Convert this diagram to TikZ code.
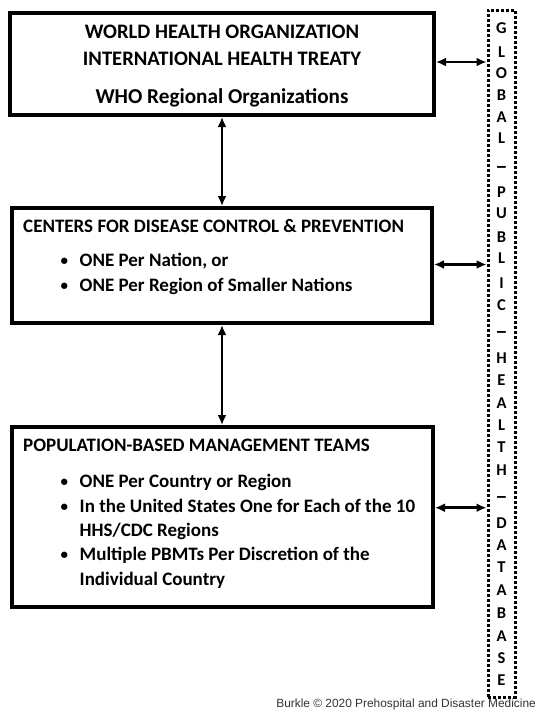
\documentclass[tikz,border=0pt]{standalone}
\usepackage{graphicx}
\usepackage{fontspec}
\setmainfont{Carlito}
\newfontfamily\creditfont{Liberation Sans}
\usetikzlibrary{arrows.meta}

\tikzset{
  tier/.style={draw, line width=4pt, inner sep=0pt},
  link/.style={line width=2.6pt, {Latex[length=10pt,width=9pt]}-{Latex[length=10pt,width=9pt]}},
  title/.style={inner sep=0pt, anchor=base, font=\fontsize{20.6}{24}\selectfont\bfseries},
  head/.style={inner sep=0pt, font=\fontsize{19}{22}\selectfont\bfseries},
  item/.style={head, anchor=base west},
  dbletter/.style={inner sep=0pt, font=\fontsize{16.5}{18}\selectfont\bfseries}
}
\newcommand{\bul}{\makebox[19pt][l]{\fontsize{15}{15}\selectfont\raisebox{1pt}{\textbullet}}}
\newcommand{\dbdash}{\scalebox{1.5}[1.3]{--}}

\begin{document}
\begin{tikzpicture}[x=1pt, y=-1pt]
\useasboundingbox (0,0) rectangle (548,716);

% the three levels
\node[tier, minimum width=424pt, minimum height=102pt] (who) at (222,64) {};
\node[tier, minimum width=420pt, minimum height=115pt] (cdc) at (222,265.5) {};
\node[tier, minimum width=421pt, minimum height=179.5pt] (pbmt) at (222.5,516.75) {};

% global database column
\node[draw, line width=3pt, dash pattern=on 3pt off 2pt, minimum width=27pt, minimum height=687pt] (gphd) at (501.5,353.5) {};
\foreach \ch/\yy [count=\i] in {G/28, L/52, O/73, B/95, A/117, L/138, \dbdash/168, P/192, U/213, B/237, L/258, I/283, C/305, \dbdash/333,
  H/358, E/380, A/403, L/425, T/447, H/470, \dbdash/498, D/523, A/545, T/567, A/590, B/613, A/636, S/658, E/680}
  \node[dbletter] (db\i) at (501.5,\yy) {\vphantom{G}\ch};

% texts
\node[title] (whoa) at (222,38.5) {WORLD HEALTH ORGANIZATION};
\node[title] (whob) at (222,65.5) {INTERNATIONAL HEALTH TREATY};
\node[title, font=\fontsize{21.2}{24}\selectfont\bfseries] (whoc) at (222,103.5) {WHO Regional Organizations};

\node[item] (cdca) at (23,232) {CENTERS FOR DISEASE CONTROL \& PREVENTION};
\node[item] (cdcb) at (60.5,266) {\bul ONE Per Nation, or};
\node[item] (cdcc) at (60.5,291) {\bul ONE Per Region of Smaller Nations};

\node[item] (pbmta) at (23,451) {POPULATION-BASED MANAGEMENT TEAMS};
\node[item] (pbmtb) at (60.5,487) {\bul ONE Per Country or Region};
\node[item] (pbmtc) at (60.5,512) {\bul In the United States One for Each of the 10};
\node[item] (pbmtd) at (79.5,536) {HHS/CDC Regions};
\node[item] (pbmte) at (60.5,560) {\bul Multiple PBMTs Per Discretion of the};
\node[item] (pbmtf) at (79.5,585) {Individual Country};

% links
\draw[link] (who.south) -- (cdc.north);
\draw[link] (cdc.south) -- (cdc.south |- pbmt.north);
\draw[link] ([yshift=2pt]who.east) -- ([yshift=2pt]who.east -| gphd.west);
\draw[link] ([yshift=1pt]cdc.east) -- ([yshift=1pt]cdc.east -| gphd.west);
\draw[link] ([yshift=9pt]pbmt.east) -- ([yshift=9pt]pbmt.east -| gphd.west);

\node[inner sep=0pt, anchor=base east, text=black!80, font=\creditfont\fontsize{11.9}{13}\selectfont] (credit) at (536,707.5) {Burkle \textcopyright{} 2020 Prehospital and Disaster Medicine};
\end{tikzpicture}
\end{document}
